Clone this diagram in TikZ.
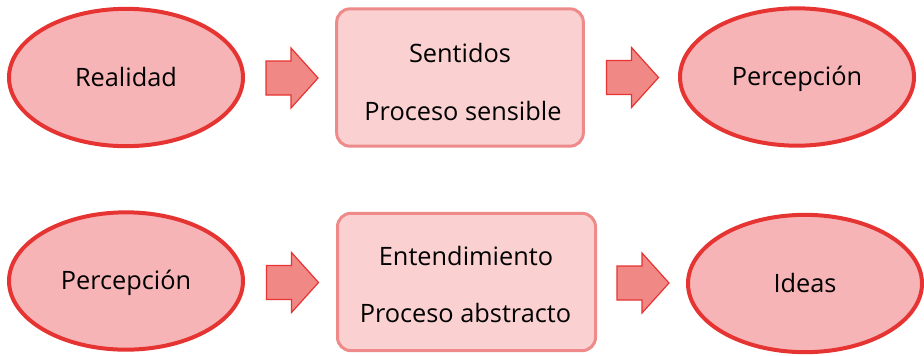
\documentclass[tikz,border=0pt]{standalone}
\usepackage{fontspec}
\setmainfont{Open Sans}
\usetikzlibrary{%
  shapes.geometric%
}
\definecolor{elred}{RGB}{229,52,50}
\definecolor{elfill}{RGB}{247,180,182}
\definecolor{boxline}{RGB}{238,138,138}
\definecolor{boxfill}{RGB}{250,208,209}
\definecolor{arrfill}{RGB}{240,136,134}

%% block arrow centred on a named coordinate
\newcommand{\blockarrow}[1]{%
  \draw[blockarr,shift={(#1)}] (-26,-17) -- (-1,-17) -- (-1,-30) -- (26,0)
  -- (-1,30) -- (-1,17) -- (-26,17) -- cycle;}

\begin{document}
\begin{tikzpicture}[x=0.75pt,y=-0.75pt,
    oval/.style={ellipse,draw=elred,fill=elfill,line width=3pt,inner sep=0pt,
      minimum width=175.5pt,minimum height=103pt,
      text height=13pt,text depth=0pt,font=\fontsize{19}{22}\selectfont},
    procbox/.style={rectangle,rounded corners=10pt,draw=boxline,fill=boxfill,
      line width=2.25pt,minimum height=103pt},
    txt/.style={anchor=base,inner sep=0pt,font=\fontsize{19}{22}\selectfont},
    blockarr/.style={draw=elred,fill=arrfill,line width=0.9pt,line join=miter}]

    \useasboundingbox (0,0) rectangle (924,355);

    %%%%%%%%%%%%%%%%
    %% first row: Realidad -> Sentidos -> Percepcion
    \node[oval] (real) at (126,77.5) {Realidad};

    \coordinate (ar1) at (292,78);
    \blockarrow{ar1}

    \node[procbox,minimum width=185pt] (sent) at (460,77.5) {};
    \node[txt] (sent1) at (460,62) {Sentidos};
    \node[txt] (sent2) at (463,120) {Proceso sensible};

    \coordinate (ar2) at (632.5,77.5);
    \blockarrow{ar2}

    \node[oval] (perc) at (797,77) {Percepción};

    %%%%%%%%%%%%%%%%
    %% second row: Percepcion -> Entendimiento -> Ideas
    \node[oval] (perc2) at (126,281) {Percepción};

    \coordinate (ar3) at (292.5,282.5);
    \blockarrow{ar3}

    \node[procbox,minimum width=193.5pt] (entend) at (466.5,282) {};
    \node[txt] (entend1) at (466,265) {Entendimiento};
    \node[txt] (entend2) at (465.5,322) {Proceso abstracto};

    \coordinate (ar4) at (643,283);
    \blockarrow{ar4}

    \node[oval] (ideas) at (805,283.5) {Ideas};

\end{tikzpicture}
\end{document}
